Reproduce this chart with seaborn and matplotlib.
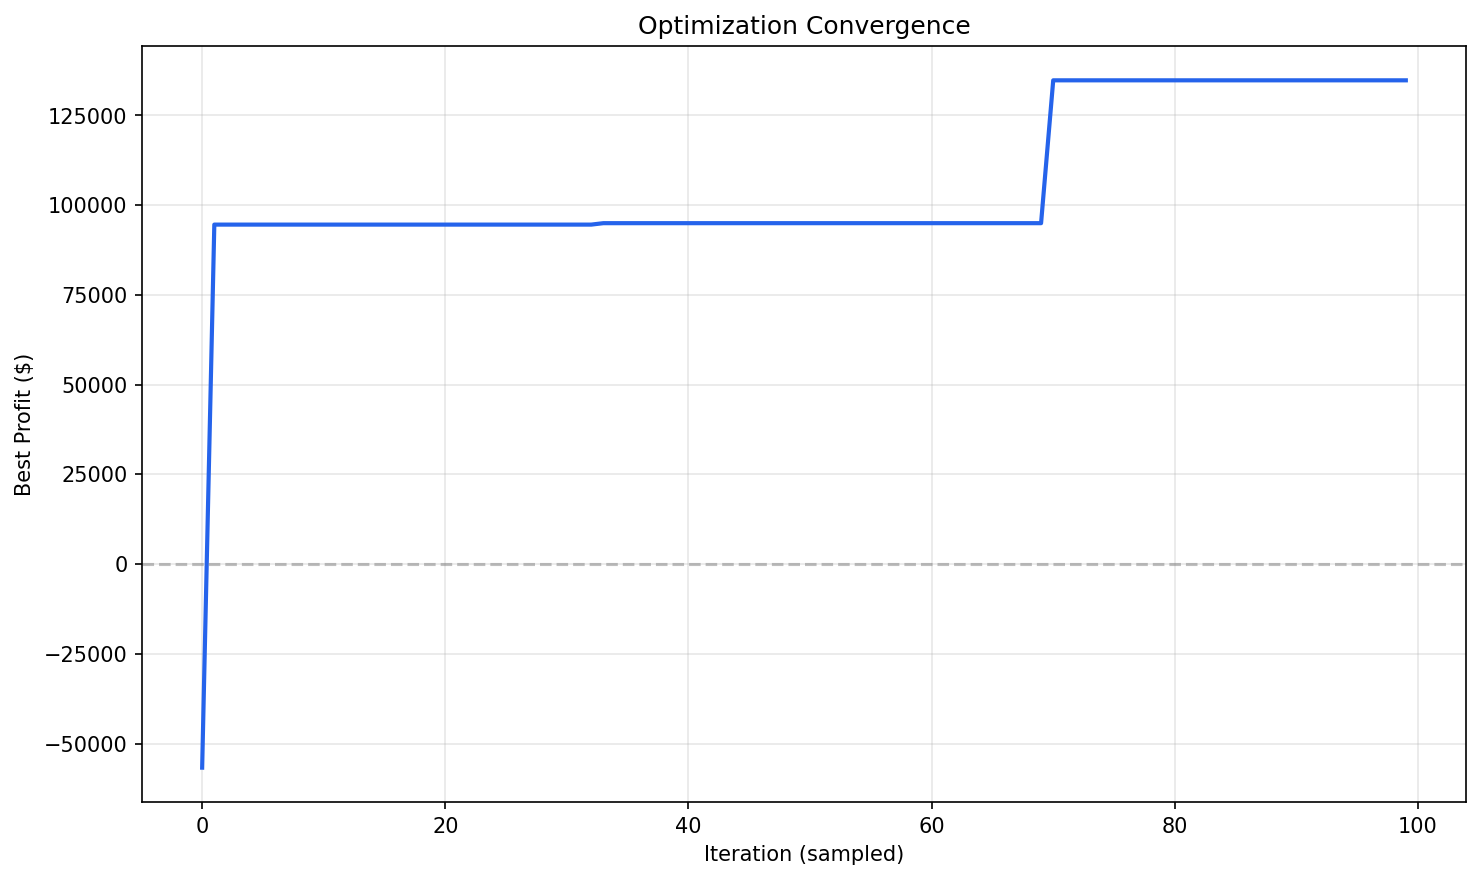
import numpy as np
import pandas as pd
import seaborn as sns
import matplotlib.pyplot as plt

# best profit found so far, one sample per iteration
iterations = list(range(100))
best_profit = [
    -56700,
    94600, 94600, 94600, 94600, 94600, 94600, 94600, 94600, 94600, 94600,
    94600, 94600, 94600, 94600, 94600, 94600, 94600, 94600, 94600, 94600,
    94600, 94600, 94600, 94600, 94600, 94600, 94600, 94600, 94600, 94600,
    94600, 94600,
    95000, 95000, 95000, 95000, 95000, 95000, 95000, 95000, 95000, 95000,
    95000, 95000, 95000, 95000, 95000, 95000, 95000, 95000, 95000, 95000,
    95000, 95000, 95000, 95000, 95000, 95000, 95000, 95000, 95000, 95000,
    95000, 95000, 95000, 95000, 95000, 95000, 95000,
    134800, 134800, 134800, 134800, 134800, 134800, 134800, 134800, 134800, 134800,
    134800, 134800, 134800, 134800, 134800, 134800, 134800, 134800, 134800, 134800,
    134800, 134800, 134800, 134800, 134800, 134800, 134800, 134800, 134800, 134800,
]

df = pd.DataFrame({'Iteration': iterations, 'Best Profit': best_profit})

fig, ax = plt.subplots(figsize=(9.88, 5.887), dpi=150)
plt.subplots_adjust(left=0.0958, right=0.9892, top=0.9479, bottom=0.0917)

sns.lineplot(data=df, x='Iteration', y='Best Profit', color='#2563eb', linewidth=2, ax=ax)
ax.axhline(0, color='gray', linestyle='--', alpha=0.5)

ax.set_title('Optimization Convergence')
ax.set_xlabel('Iteration (sampled)')
ax.set_ylabel('Best Profit ($)')
ax.grid(True, alpha=0.3)
ax.set_yticks(np.arange(-50000, 125001, 25000))
ax.ticklabel_format(axis='y', style='plain')

plt.savefig('out.png', dpi=150)
